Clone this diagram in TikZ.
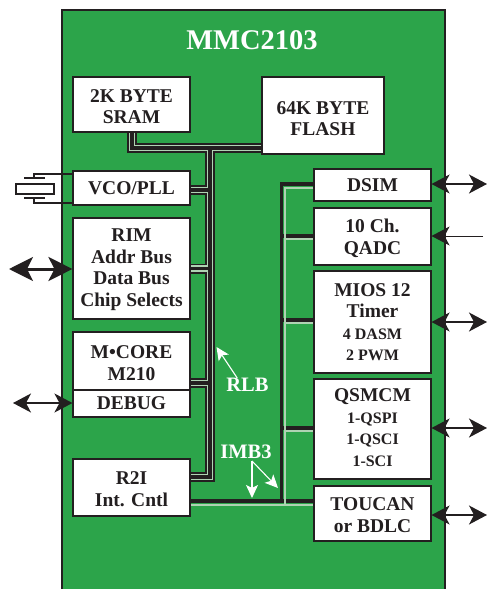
\documentclass[tikz,border=0pt]{standalone}
\usepackage{fontspec}
\setmainfont{Liberation Serif}
\newfontfamily\semib{Liberation Serif Bold}
\newfontfamily\titlef{Liberation Serif Bold}
\usetikzlibrary{arrows.meta}
\definecolor{chipgreen}{HTML}{2CA44A}
\definecolor{ink}{HTML}{231F20}
\definecolor{stripe}{HTML}{AFD3B3}
\newcommand{\lgsize}{\fontsize{19.5}{21.5}\selectfont}
\newcommand{\smsize}{\fontsize{16}{21}\selectfont}
\newcommand{\dn}[1]{\rule{0pt}{\dimexpr13pt+#1pt*2\relax}}
\tikzset{
  box/.style={draw=ink,line width=1.1pt,fill=white,text=ink,align=center,inner sep=0pt,font=\semib\lgsize,minimum width=117pt},
  lab/.style={text=white,font=\semib\fontsize{20.5}{22}\selectfont,inner sep=0pt},
  extsmall/.style={draw=ink,line width=1.4pt,{Stealth[length=18pt,width=19pt,inset=5pt]}-{Stealth[length=18pt,width=19pt,inset=5pt]}},
  extin/.style={draw=ink,line width=1pt,-{Stealth[length=18pt,width=19pt,inset=5pt]}},
  extbig/.style={draw=ink,line width=3pt,{Stealth[length=24pt,width=24pt,inset=6pt]}-{Stealth[length=24pt,width=24pt,inset=6pt]}},
  callout/.style={draw=white,line width=1.1pt,-{Stealth[length=13pt,width=12pt,inset=3pt]}},
  rlbo/.style={draw=ink,line width=10pt,line join=miter},
  rlbm/.style={draw=stripe,line width=6.6pt,line join=miter},
  rlbi/.style={draw=ink,line width=3.2pt,line join=miter},
  imbblack/.style={draw=ink,line width=3.8pt,line join=miter},
  imblight/.style={draw=stripe,line width=2pt,line join=miter},
  lead/.style={draw=ink,line width=1.2pt},
}
\begin{document}
\begin{tikzpicture}[x=1pt,y=-1pt]
\useasboundingbox (0,0) rectangle (487,589);
\fill[chipgreen] (62,10) rectangle (445,589);
\draw[ink,line width=1.2pt] (62,589) -- (62,10) -- (445,10) -- (445,589);
\node[text=white,font=\titlef\fontsize{28.5}{28.5}\selectfont,inner sep=0pt] (title) at (252,40) {MMC2103};

% nodes
\node[box,minimum height=55pt] (sram) at (131.5,104.5) {\dn{2}2K BYTE\\SRAM};
\node[box,minimum width=122pt,minimum height=77pt] (flash) at (323,115.5) {\dn{3}64K BYTE\\FLASH};
\node[box,minimum height=34pt] (vco) at (131.5,188) {VCO/PLL};
\node[box,minimum height=101pt] (rim) at (131.5,268.5) {\dn{1}RIM\\Addr Bus\\Data Bus\\Chip Selects};
\node[box,minimum height=85pt] (core) at (131.5,374.5) {};
\node[box,draw=none,fill=none,minimum height=58pt] (mcore) at (131.5,361) {\dn{2}M\textbullet CORE\\M210};
\node[box,minimum height=27pt] (debug) at (131.5,403.5) {DEBUG};
\node[box,minimum height=57pt] (r2i) at (131.5,487.5) {\dn{1.5}R2I\\Int. Cntl};
\node[box,minimum height=32pt] (dsim) at (372.5,185) {DSIM};
\node[box,minimum height=57pt] (qadc) at (372.5,236.5) {\dn{2}10 Ch.\\QADC};
\node[box,minimum height=102pt] (mios) at (372.5,322) {MIOS 12\\Timer\\{\smsize 4 DASM}\\{\smsize 2 PWM}};
\node[box,minimum height=100pt] (qsmcm) at (372.5,429) {QSMCM\\{\smsize 1-QSPI}\\{\smsize 1-QSCI}\\{\smsize 1-SCI}\rule[-3pt]{0pt}{0pt}};
\node[box,minimum height=55pt] (toucan) at (372.5,513.5) {\dn{1.5}TOUCAN\\or BDLC};

% bus junction points
\coordinate (rlbtop) at (210,148);
\coordinate (rlbbot) at (210,477);
\coordinate (srcorner) at (132,148);
\coordinate (imbtop) at (281.5,184);
\coordinate (imbbot) at (281.5,501);
\coordinate (ltop) at (284.5,187.5);
\coordinate (lbot) at (284.5,504.5);

% RLB bus, three layers
\foreach \lay in {rlbo,rlbm,rlbi}{
  \draw[\lay] (sram.south -| srcorner) -- (srcorner) -- (rlbtop -| flash.west);
  \draw[\lay] (rlbtop) -- (rlbbot) -- (rlbbot -| r2i.east);
  \draw[\lay] (210,190) -- (vco.east |- 0,190);
  \draw[\lay] (210,268.5) -- (rim.east |- 0,268.5);
  \draw[\lay] (210,383) -- (core.east |- 0,383);
}

% IMB3 bus
\draw[imbblack] (dsim.west |- imbtop) -- (imbtop) -- (imbbot);
\draw[imbblack] (r2i.east |- imbbot) -- (toucan.west |- imbbot);
\draw[imbblack] (imbtop |- 0,236) -- (qadc.west |- 0,236);
\draw[imbblack] (imbtop |- 0,320) -- (mios.west |- 0,320);
\draw[imbblack] (imbtop |- 0,428) -- (qsmcm.west |- 0,428);
\draw[imblight] (dsim.west |- ltop) -- (ltop) -- (lbot);
\draw[imblight] (r2i.east |- lbot) -- (toucan.west |- lbot);
\draw[imblight] (ltop |- 0,239) -- (qadc.west |- 0,239);
\draw[imblight] (ltop |- 0,323) -- (mios.west |- 0,323);
\draw[imblight] (ltop |- 0,431) -- (qsmcm.west |- 0,431);

% external signals
\coordinate (e1) at (487,184);
\coordinate (e2) at (483,236);
\coordinate (e3) at (487,322);
\coordinate (e4) at (487,428);
\coordinate (e5) at (487,515);
\coordinate (e6) at (9,269);
\coordinate (e7) at (13,403);
\draw[extsmall] (dsim.east |- e1) -- (e1);
\draw[extin] (e2) -- (qadc.east |- e2);
\draw[extsmall] (mios.east |- e3) -- (e3);
\draw[extsmall] (qsmcm.east |- e4) -- (e4);
\draw[extsmall] (toucan.east |- e5) -- (e5);
\draw[extbig] (e6) -- (rim.west |- e6);
\draw[extsmall] (e7) -- (debug.west |- e7);

% crystal
\draw[ink,line width=2pt,fill=white] (16,183.5) rectangle (53.5,193.5);
\draw[ink,line width=1.2pt] (24,178) -- (45,178);
\draw[ink,line width=1.2pt] (24,198) -- (45,198);
\draw[lead] (34,178) |- (vco.west |- 0,174);
\draw[lead] (34,198) |- (vco.west |- 0,203);

% callouts
\node[lab] (rlb) at (247.5,385) {RLB};
\node[lab] (imb) at (246,452) {IMB3};
\coordinate (rlbtip) at (216.5,347);
\coordinate (imbfork) at (252,461);
\coordinate (imbtip1) at (252,498);
\coordinate (imbtip2) at (278,488);
\draw[callout] (rlb.north west) ++(11,0) -- (rlbtip);
\draw[callout] (imbfork) -- (imbtip1);
\draw[callout] (imbfork) -- (imbtip2);
\end{tikzpicture}
\end{document}
